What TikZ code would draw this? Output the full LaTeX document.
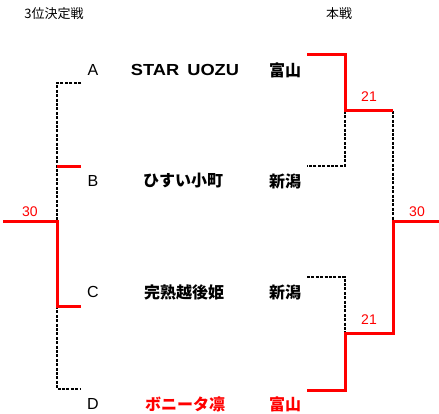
\documentclass[tikz,border=0pt]{standalone}
\usepackage{fontspec}
\setmainfont{Liberation Sans}
\newfontfamily\jp{Noto Sans CJK JP}
\newfontfamily\widesans{Liberation Sans}[FakeStretch=1.14]
\tikzset{
  win/.style={draw=red, line width=3pt},
  lose/.style={draw=black, line width=2pt, dash pattern=on 3pt off 1.4pt},
  letter/.style={inner sep=0pt, font=\fontsize{16}{18}\selectfont},
  team/.style={inner sep=0pt, font=\fontsize{16}{18}\selectfont\bfseries\jp},
  score/.style={inner sep=0pt, text=red, font=\fontsize{14}{16}\selectfont},
  title/.style={inner sep=0pt, font=\fontsize{13}{15}\selectfont\jp},
}
\begin{document}
\begin{tikzpicture}[x=1pt,y=-1pt]
\useasboundingbox (0,0) rectangle (439,414);
% titles
\node[title] (t1) at (54,14) {3位決定戦};
\node[title] (t2) at (339,14) {本戦};
% letters
\node[letter] (A) at (93,70) {A};
\node[letter] (B) at (93,181) {B};
\node[letter] (C) at (93,292) {C};
\node[letter] (D) at (93,404) {D};
% teams
\node[team] (nA) at (185,70) {\widesans\bfseries STAR\kern3pt\ UOZU};
\node[team] (nB) at (183,181) {ひすい小町};
\node[team] (nC) at (184,292) {完熟越後姫};
\node[team, text=red] (nD) at (185,404) {ボニータ凛};
\node[team] (pA) at (285,70) {富山};
\node[team] (pB) at (285,181) {新潟};
\node[team] (pC) at (285,292) {新潟};
\node[team, text=red] (pD) at (285,404) {富山};
% left bracket coordinates
\coordinate (a1) at (81,83);  \coordinate (a0) at (57,83);
\coordinate (b1) at (81,167); \coordinate (b0) at (57,167);
\coordinate (j3) at (57,222); \coordinate (l3) at (3,222);
\coordinate (c1) at (81,306); \coordinate (c0) at (57,306);
\coordinate (d1) at (81,389); \coordinate (d0) at (57,389);
\draw[lose] (a1) -- (a0) -- (b0) -- (j3);
\draw[lose] (c0) -- (d0) -- (d1);
\draw[win] (b0) -- (b1);
\draw[win] (l3) -- (j3) -- (c0) -- (c1);
% right bracket coordinates
\coordinate (r1l) at (307,55);  \coordinate (r1) at (345,55);
\coordinate (s1) at (345,111);  \coordinate (s1r) at (393,111);
\coordinate (r2) at (345,166);  \coordinate (r2l) at (307,166);
\coordinate (f) at (393,222);   \coordinate (fr) at (439,222);
\coordinate (r3l) at (307,277); \coordinate (r3) at (345,277);
\coordinate (s2) at (345,333);  \coordinate (s2r) at (393,333);
\coordinate (r4) at (345,390);  \coordinate (r4l) at (307,390);
\draw[lose] (s1) -- (r2) -- (r2l);
\draw[lose] (s1r) -- (f);
\draw[lose] (r3l) -- (r3) -- (s2);
\draw[win] (r1l) -- (r1) -- (s1) -- (s1r);
\draw[win] (r4l) -- (r4) -- (s2) -- (s2r) -- (f) -- (fr);
% scores
\node[score] (sL) at (30,212) {30};
\node[score] (sR) at (417,212) {30};
\node[score] (s21a) at (369,97) {21};
\node[score] (s21b) at (369,320) {21};
\end{tikzpicture}
\end{document}
